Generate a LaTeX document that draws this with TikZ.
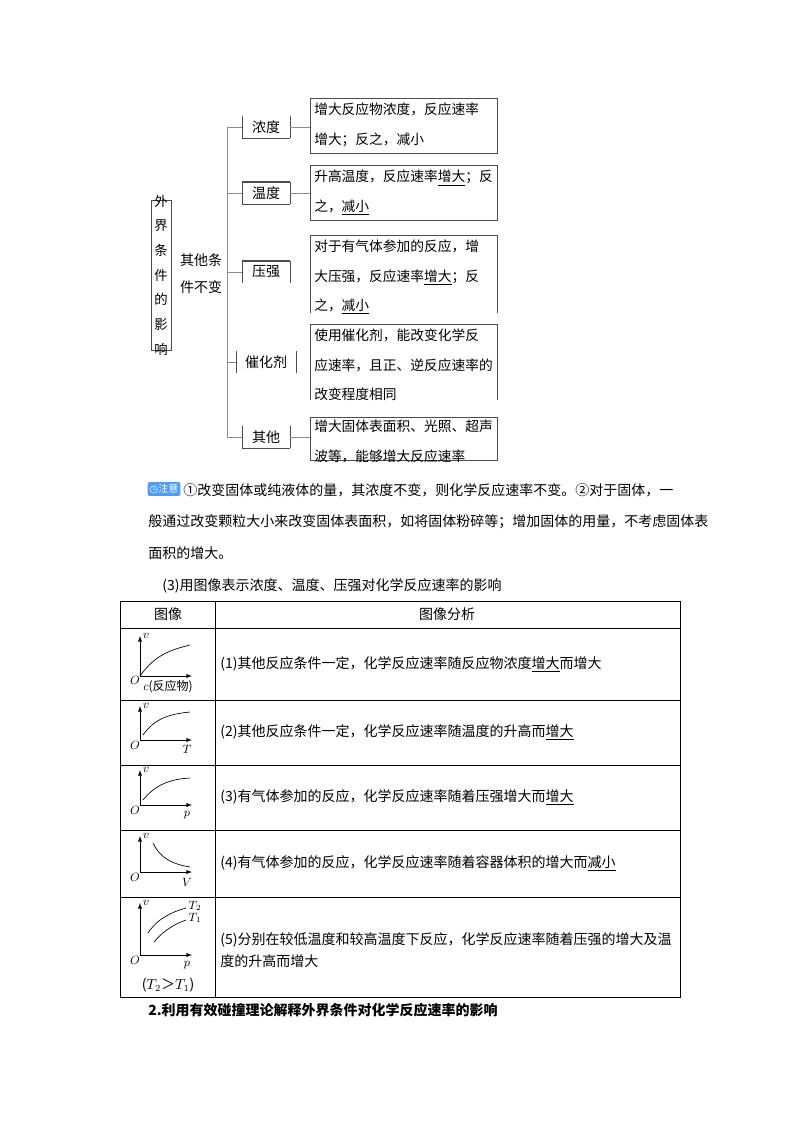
\documentclass[tikz,border=0pt]{standalone}
\usepackage{fontspec}
\setmainfont{Noto Sans CJK SC}
\newfontfamily\djv{DejaVu Sans}
\begin{document}
\begin{tikzpicture}[x=0.75pt,y=-0.75pt,
  txt/.style={anchor=west,inner sep=0pt,font=\fontsize{10.5}{13}\selectfont},
  btxt/.style={anchor=north west,inner sep=0pt,align=left,font=\fontsize{10.3}{22}\selectfont},
  ln/.style={draw=black!70,line width=0.6pt},
  ax/.style={-latex,line width=0.5pt},
  cv/.style={line width=0.5pt},
  lab/.style={inner sep=0pt,font=\fontsize{9}{10}\selectfont}]
\useasboundingbox (0,0) rectangle (800,1132);
% ---- top diagram
\draw[ln] (151,200) rectangle (171,350);
\node[inner sep=0pt,align=center,font=\fontsize{10}{18.5}\selectfont] (wj) at (161,275) {外\\界\\条\\件\\的\\影\\响};
\node[inner sep=0pt,align=left,font=\fontsize{10.5}{20}\selectfont] (qt) at (201,274) {其他条\\件不变};
\coordinate (vt) at (227,127); \coordinate (vb) at (227,437);
\draw[ln,draw=black!45] (vt) -- (vb);
\foreach \n/\t/\y/\w in {a/浓度/127/24, b/温度/193/24, c/压强/272/24, d/催化剂/362/30, e/其他/437/24}{
  \node[inner sep=0pt,font=\fontsize{10.5}{12}\selectfont] (l\n) at (266,\y) {\t};
  \draw[ln] (266-\w,\y-11) -- (266-\w,\y+11);
  \draw[ln] (266+\w,\y-11) -- (266+\w,\y+11);
  \coordinate (h\n) at (227,\y);
  \draw[ln,draw=black!45] (h\n) -- (266-\w,\y);
}
\draw[ln] (242,138) -- (290,138);
\draw[ln,line width=1pt] (242,182) -- (290,182); \draw[ln] (242,204) -- (290,204);
\draw[ln,line width=1pt] (242,261) -- (290,261);
\draw[ln] (242,448) -- (290,448);
% right boxes
\draw[ln] (310,98) rectangle (497,153);
\draw[ln] (310,165) rectangle (497,220);
\draw[ln] (310,313) -- (310,235) -- (497,235) -- (497,313);
\draw[ln] (310,400) -- (310,324) -- (497,324) -- (497,400);
\draw[ln] (310,417) rectangle (497,460);
\foreach \n/\y in {a/127,b/193,c/272,d/362,e/437}{\coordinate (r\n) at (310,\y);}
\draw[ln,draw=black!45] (290,127) -- (ra);
\draw[ln,draw=black!45] (290,193) -- (rb);
\draw[ln,draw=black!45] (290,437) -- (re);
\node[btxt] (ta) at (314,103) {增大反应物浓度，反应速率\\增大；反之，减小};
\node[btxt] (tb) at (314,170) {升高温度，反应速率\underline{增大}；反\\之，\underline{减小}};
\node[btxt] (tc) at (314,240) {对于有气体参加的反应，增\\大压强，反应速率\underline{增大}；反\\之，\underline{减小}};
\node[btxt] (td) at (314,329) {使用催化剂，能改变化学反\\应速率，且正、逆反应速率的\\改变程度相同};
\node[btxt] (te) at (314,420) {增大固体表面积、光照、超声\\波等，能够增大反应速率};
% ---- note
\node[fill=blue!55!cyan!70,rounded corners=1.5pt,inner sep=1.5pt,text=white,font=\fontsize{7.5}{8}\selectfont] (icon) at (164,489) {{\djv ◷}注意};
\node[txt] (n1) at (183,490) {①改变固体或纯液体的量，其浓度不变，则化学反应速率不变。②对于固体，一};
\node[txt] (n2) at (148,522) {般通过改变颗粒大小来改变固体表面积，如将固体粉碎等；增加固体的用量，不考虑固体表};
\node[txt] (n3) at (148,553) {面积的增大。};
\node[txt] (n4) at (162,586) {(3)用图像表示浓度、温度、压强对化学反应速率的影响};
% ---- table
\draw[line width=0.6pt] (120,601) rectangle (680,997);
\draw[line width=0.6pt] (215,601) -- (215,997);
\foreach \y in {628,700,765,830,897}{\draw[line width=0.6pt] (120,\y) -- (680,\y);}
\node[inner sep=0pt,font=\fontsize{10.5}{13}\selectfont] (h1) at (168,614) {图像};
\node[inner sep=0pt,font=\fontsize{10.5}{13}\selectfont] (h2) at (447,614) {图像分析};
\node[txt] (r1) at (220,664) {(1)其他反应条件一定，化学反应速率随反应物浓度\underline{增大}而增大};
\node[txt] (r2) at (220,732) {(2)其他反应条件一定，化学反应速率随温度的升高而\underline{增大}};
\node[txt] (r3) at (220,797) {(3)有气体参加的反应，化学反应速率随着压强增大而\underline{增大}};
\node[txt] (r4) at (220,863) {(4)有气体参加的反应，化学反应速率随着容器体积的增大而\underline{减小}};
\node[btxt,font=\fontsize{10.5}{16.5}\selectfont] (r5) at (220,932) {(5)分别在较低温度和较高温度下反应，化学反应速率随着压强的增大及温\\度的升高而增大};
% graphs
\draw[ax] (140,676) -- (140,636); \draw[ax] (140,676) -- (192,676);
\draw[cv] (140,676) .. controls (155,655) and (170,650) .. (190,645);
\node[lab] (v1) at (146,636) {$v$}; \node[lab] (o1) at (135,680) {$O$};
\node[lab] (x1) at (168,687) {$c$(反应物)};
\draw[ax] (140,740) -- (140,706); \draw[ax] (140,740) -- (192,740);
\draw[cv] (143,735) .. controls (155,718) and (170,714) .. (190,712);
\node[lab] (v2) at (146,706) {$v$}; \node[lab] (o2) at (135,745) {$O$}; \node[lab] (x2) at (187,749) {$T$};
\draw[ax] (140,805) -- (140,770); \draw[ax] (140,805) -- (192,805);
\draw[cv] (143,800) .. controls (155,785) and (170,779) .. (190,778);
\node[lab] (v3) at (146,770) {$v$}; \node[lab] (o3) at (135,810) {$O$}; \node[lab] (x3) at (187,815) {$p$};
\draw[ax] (140,872) -- (140,836); \draw[ax] (140,872) -- (192,872);
\draw[cv] (153,843) .. controls (160,858) and (172,864) .. (190,867);
\node[lab] (v4) at (146,836) {$v$}; \node[lab] (o4) at (135,877) {$O$}; \node[lab] (x4) at (187,882) {$V$};
\draw[ax] (140,955) -- (140,903); \draw[ax] (140,955) -- (192,955);
\draw[cv] (148,933) .. controls (158,918) and (172,912) .. (186,908);
\draw[cv] (154,942) .. controls (164,930) and (175,924) .. (186,920);
\node[lab] (v5) at (146,903) {$v$}; \node[lab] (o5) at (135,960) {$O$}; \node[lab] (x5) at (187,965) {$p$};
\node[lab] (t2) at (195,906) {$T_2$}; \node[lab] (t1) at (195,918) {$T_1$};
\node[inner sep=0pt,font=\fontsize{10.5}{12}\selectfont] (tt) at (168,985) {($T_2$＞$T_1$)};
% final
\node[txt,font=\fontsize{10.5}{13}\bfseries] (fin) at (148,1010) {2.利用有效碰撞理论解释外界条件对化学反应速率的影响};
\end{tikzpicture}
\end{document}
